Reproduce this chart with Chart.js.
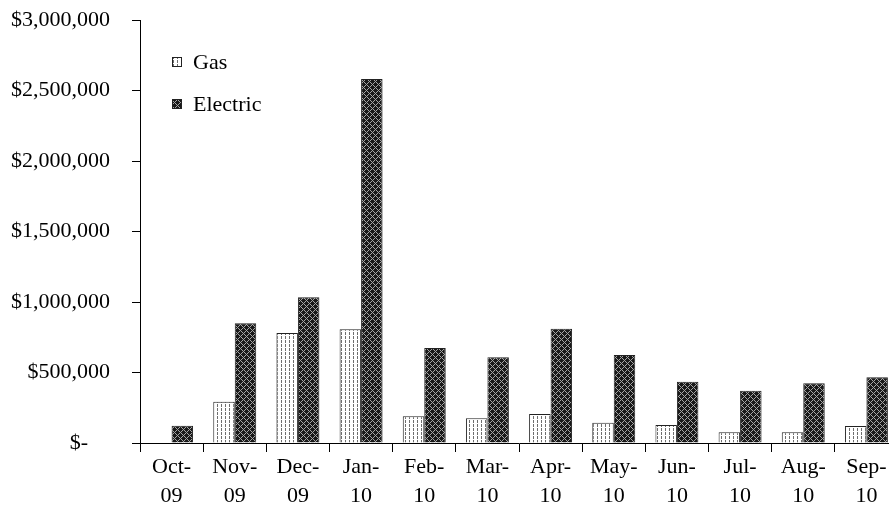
<!DOCTYPE html>
<html>
<head>
<meta charset="utf-8">
<script src="https://cdn.jsdelivr.net/npm/chart.js@4.4.1/dist/chart.umd.min.js"></script>
<style>
  html, body { margin: 0; padding: 0; background: #fff; overflow: hidden; width: 889px; height: 512px; }
  canvas { display: block; }
</style>
</head>
<body>
<canvas id="c" width="899" height="512"></canvas>
<script>
const categories = ['Oct-09','Nov-09','Dec-09','Jan-10','Feb-10','Mar-10','Apr-10','May-10','Jun-10','Jul-10','Aug-10','Sep-10'];
const gasValues = [0, 293000, 780000, 806000, 190000, 175000, 205000, 144000, 128000, 76000, 76000, 120000];
const electricValues = [123000, 849000, 1033000, 2582000, 674000, 608000, 810000, 624000, 435000, 371000, 423000, 466000];
const yTicks = [0, 500000, 1000000, 1500000, 2000000, 2500000, 3000000];

const FONT = "'Liberation Serif', 'Times New Roman', serif";

function makeTile(w, h, fn) {
  const t = document.createElement('canvas');
  t.width = w; t.height = h;
  const g = t.getContext('2d');
  const img = g.createImageData(w, h);
  for (let y = 0; y < h; y++) for (let x = 0; x < w; x++) {
    const v = fn(x, y);
    const i = (y * w + x) * 4;
    img.data[i] = img.data[i+1] = img.data[i+2] = v; img.data[i+3] = 255;
  }
  g.putImageData(img, 0, 0);
  return document.getElementById('c').getContext('2d').createPattern(t, 'repeat');
}
const gasPattern = makeTile(4, 4, (x, y) => (x === 1 && y !== 3) ? 110 : 255);
const elecPattern = makeTile(6, 6, (x, y) => (((x + y) % 6 === 0) || ((x - y + 6) % 6 === 0)) ? 165 : 25);

const legendPlugin = {
  id: 'insideLegend',
  afterDraw(chart) {
    const ctx = chart.ctx;
    const items = [
      { label: 'Gas', fill: gasPattern, y: 62 },
      { label: 'Electric', fill: elecPattern, y: 104 }
    ];
    ctx.save();
    items.forEach(it => {
      ctx.fillStyle = it.fill;
      ctx.fillRect(172, it.y - 5, 10, 10);
      ctx.strokeStyle = '#222';
      ctx.lineWidth = 1;
      ctx.strokeRect(172.5, it.y - 4.5, 9, 9);
      ctx.fillStyle = '#000';
      ctx.font = '22px ' + FONT;
      ctx.textBaseline = 'middle';
      ctx.textAlign = 'left';
      ctx.fillText(it.label, 193, it.y + 1);
    });
    ctx.restore();
  }
};

new Chart(document.getElementById('c'), {
  type: 'bar',
  data: {
    labels: categories.map(c => { const p = c.split('-'); return [p[0] + '-', p[1]]; }),
    datasets: [
      { label: 'Gas', data: gasValues, backgroundColor: gasPattern, borderColor: '#222', borderWidth: 1 },
      { label: 'Electric', data: electricValues, backgroundColor: elecPattern, borderColor: '#222', borderWidth: 1 }
    ]
  },
  options: {
    responsive: false,
    devicePixelRatio: 1,
    animation: false,
    layout: { autoPadding: false, padding: { top: 20, right: 1, left: 0, bottom: 0 } },
    plugins: { legend: { display: false }, tooltip: { enabled: false } },
    datasets: { bar: { categoryPercentage: 0.68, barPercentage: 1.0 } },
    scales: {
      x: {
        offset: true,
        grid: { display: true, offset: true, drawOnChartArea: false, drawTicks: true, tickLength: 9, color: '#000', lineWidth: 1 },
        border: { display: true, color: '#000', width: 1 },
        ticks: { color: '#000', font: { family: FONT, size: 22, lineHeight: 1.35 }, padding: 0, maxRotation: 0, autoSkip: false },
        afterFit(scale) { scale.height = 69; scale.paddingLeft = 0; scale.paddingRight = 0; }
      },
      y: {
        min: 0, max: 3000000,
        afterBuildTicks(scale) { scale.ticks = yTicks.map(v => ({ value: v })); },
        grid: { display: true, drawOnChartArea: false, drawTicks: true, tickLength: 8, color: '#000', lineWidth: 1 },
        border: { display: true, color: '#000', width: 1 },
        ticks: {
          color: '#000', font: { family: FONT, size: 22 }, padding: 22,
          callback(v) { return v === 0 ? '$-    ' : '$' + Number(v).toLocaleString('en-US'); }
        },
        afterFit(scale) { scale.width = 140; scale.paddingTop = 0; scale.paddingBottom = 0; }
      }
    }
  },
  plugins: [legendPlugin]
});
</script>
</body>
</html>
